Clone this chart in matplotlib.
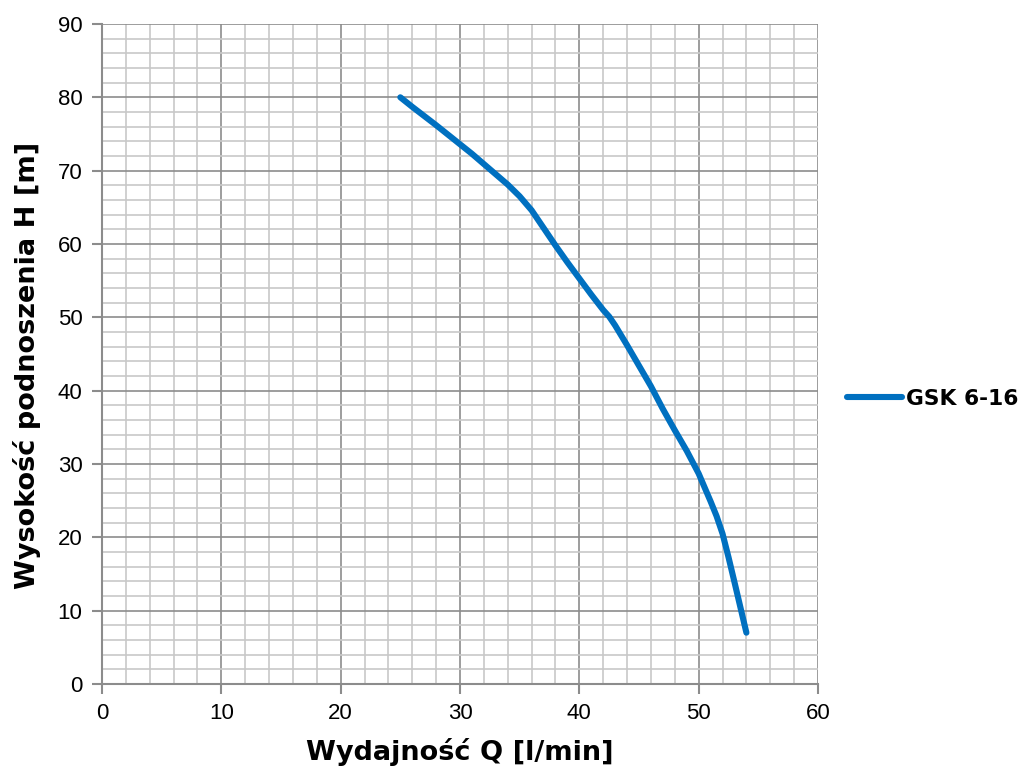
import matplotlib
matplotlib.use("Agg")
import matplotlib.pyplot as plt
from matplotlib.ticker import MultipleLocator

# Data
flow_q = [25, 26, 28, 30, 31, 32, 33, 34, 35, 36, 37, 38, 39, 40, 41, 42, 42.5, 43, 44, 45, 46, 47, 48, 49, 50, 50.5, 51, 51.5, 52, 52.5, 53, 54]
head_h = [80, 78.7, 76.2, 73.6, 72.3, 70.9, 69.5, 68.1, 66.5, 64.6, 62.2, 59.8, 57.5, 55.3, 53.1, 51.0, 50.1, 48.9, 46.2, 43.4, 40.6, 37.5, 34.6, 31.8, 28.7, 26.8, 24.9, 22.9, 20.5, 17.3, 13.9, 7]
series_name = "GSK 6-16"
x_label = "Wydajność Q [l/min]"
y_label = "Wysokość podnoszenia H [m]"

fig = plt.figure(figsize=(10.23, 7.78), dpi=100)
ax = fig.add_axes([0.0997, 0.1208, 0.6999, 0.8484])

ax.set_xlim(0, 60)
ax.set_ylim(0, 90)
ax.xaxis.set_major_locator(MultipleLocator(10))
ax.yaxis.set_major_locator(MultipleLocator(10))
ax.xaxis.set_minor_locator(MultipleLocator(2))
ax.yaxis.set_minor_locator(MultipleLocator(2))

ax.grid(which="minor", color="#c8c8c8", linewidth=1.2)
ax.grid(which="major", color="#8c8c8c", linewidth=1.2)
ax.set_axisbelow(True)

for s in ["top", "right"]:
    ax.spines[s].set_visible(False)
for s in ["left", "bottom"]:
    ax.spines[s].set_color("#8c8c8c")
    ax.spines[s].set_linewidth(1.5)

ax.tick_params(which="major", direction="out", length=7, width=1.5, color="#8c8c8c",
               labelsize=16, pad=7)
ax.tick_params(which="minor", length=0)
for lab in ax.get_xticklabels() + ax.get_yticklabels():
    lab.set_family("Liberation Sans")

line, = ax.plot(flow_q, head_h, color="#0070C0", linewidth=4.4, solid_capstyle="round",
                solid_joinstyle="round", label=series_name)

ax.set_xlabel(x_label, fontsize=19.5, fontweight="bold", family="DejaVu Sans")
ax.set_ylabel(y_label, fontsize=19.5, fontweight="bold", family="DejaVu Sans")
ax.xaxis.set_label_coords(0.5, -0.082)
ax.yaxis.set_label_coords(-0.085, 0.482)

leg = fig.legend(handles=[line], loc="center left", bbox_to_anchor=(0.828, 0.487),
                 frameon=False, prop={"family": "DejaVu Sans", "weight": "bold", "size": 15.7},
                 handlelength=2.5, handletextpad=0.2, borderpad=0, borderaxespad=0)

fig.savefig("out.png", dpi=100)
